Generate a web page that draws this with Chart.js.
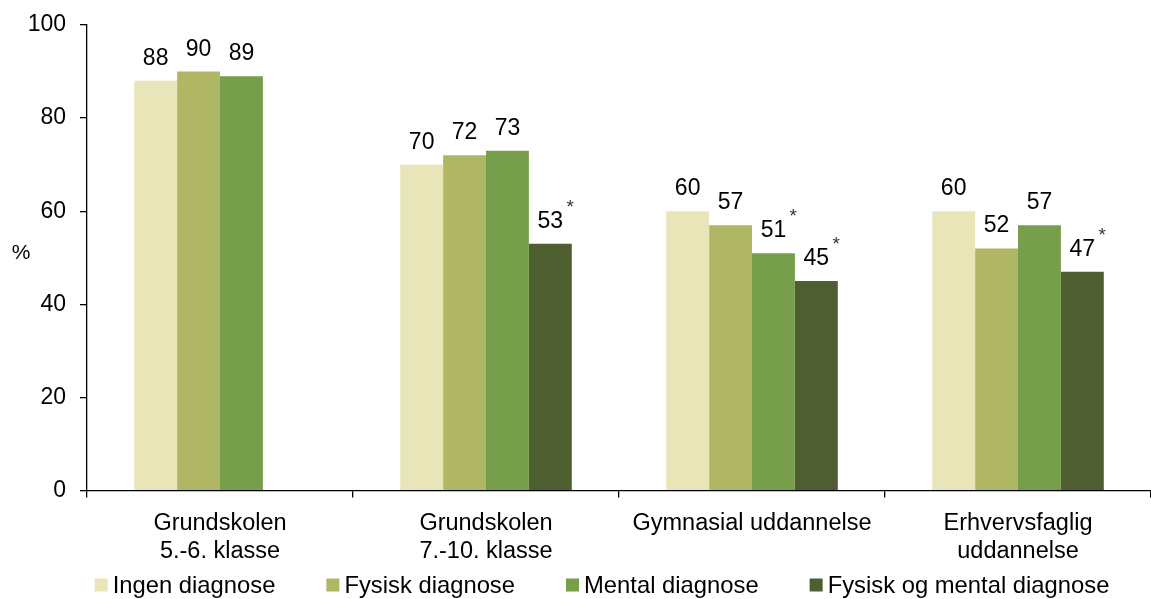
<!DOCTYPE html>
<html>
<head>
<meta charset="utf-8">
<script src="https://cdn.jsdelivr.net/npm/chart.js@4.4.0/dist/chart.umd.min.js"></script>
<style>
  body { margin: 0; background: #fff; }
  #wrap { width: 1151px; height: 599px; position: relative; }
</style>
</head>
<body>
<div id="wrap"><canvas id="chart"></canvas></div>
<script>
// categories and series
const categories = [['Grundskolen', '5.-6. klasse'], ['Grundskolen', '7.-10. klasse'], 'Gymnasial uddannelse', ['Erhvervsfaglig', 'uddannelse']];
const seriesNames = ['Ingen diagnose', 'Fysisk diagnose', 'Mental diagnose', 'Fysisk og mental diagnose'];
const ingen = [88, 70, 60, 60];
const fysisk = [90, 72, 57, 52];
const mental = [89, 73, 51, 57];
const fysiskMental = [null, 53, 45, 47];
// asterisks (significant difference) per series
const starsIngen = [false, false, false, false];
const starsFysisk = [false, false, false, false];
const starsMental = [false, false, true, false];
const starsFysiskMental = [false, true, true, true];
const yTicks = [0, 20, 40, 60, 80, 100];

const colors = ['#E8E6B9', '#AFB765', '#779E4B', '#4F5E31'];
const FONT = 'Liberation Sans, Arial, sans-serif';
const FS = 23;

// value labels on top of bars, with small asterisk
const barLabels = {
    id: 'barLabels',
    afterDatasetsDraw(chart) {
        const ctx = chart.ctx;
        ctx.save();
        chart.data.datasets.forEach((ds, i) => {
            const meta = chart.getDatasetMeta(i);
            meta.data.forEach((bar, j) => {
                const v = ds.data[j];
                if (v === null || v === undefined) return;
                const base = bar.y - 16;
                ctx.font = FS + 'px ' + FONT;
                ctx.fillStyle = '#000';
                ctx.textAlign = 'center';
                ctx.textBaseline = 'alphabetic';
                ctx.fillText(String(v), bar.x, base);
                if (ds.stars[j]) {
                    const w = ctx.measureText(String(v)).width;
                    ctx.font = '19px ' + FONT;
                    ctx.fillStyle = '#333';
                    ctx.fillText('*', bar.x + w / 2 + 7, base - 15);
                }
            });
        });
        ctx.restore();
    }
};

// unrotated "%" axis title
const percentTitle = {
    id: 'percentTitle',
    afterDraw(chart) {
        const ctx = chart.ctx;
        const y = chart.scales.y;
        ctx.save();
        ctx.font = '21px ' + FONT;
        ctx.fillStyle = '#000';
        ctx.textAlign = 'center';
        ctx.textBaseline = 'middle';
        ctx.fillText('%', 21, y.getPixelForValue(50) - 5);
        ctx.restore();
    }
};

// legend row at the bottom: small squares, wide gaps between items
const bottomLegend = {
    id: 'bottomLegend',
    afterDraw(chart) {
        const ctx = chart.ctx;
        const box = 13, gapText = 5, gapItem = 51, cy = 585, center = 602;
        ctx.save();
        ctx.font = '23.8px ' + FONT;
        const widths = chart.data.datasets.map(ds => ctx.measureText(ds.label).width);
        const total = widths.reduce((a, w) => a + box + gapText + w, 0) + gapItem * (widths.length - 1);
        let x = center - total / 2;
        ctx.textBaseline = 'middle';
        ctx.textAlign = 'left';
        chart.data.datasets.forEach((ds, i) => {
            ctx.fillStyle = ds.backgroundColor;
            ctx.fillRect(x, cy - box / 2, box, box);
            ctx.fillStyle = '#000';
            ctx.fillText(ds.label, x + box + gapText, cy + 1);
            x += box + gapText + widths[i] + gapItem;
        });
        ctx.restore();
    }
};

const seriesData = [ingen, fysisk, mental, fysiskMental];
const seriesStars = [starsIngen, starsFysisk, starsMental, starsFysiskMental];

new Chart(document.getElementById('chart'), {
    type: 'bar',
    data: {
        labels: categories,
        datasets: seriesNames.map((name, i) => ({
            label: name,
            data: seriesData[i],
            stars: seriesStars[i],
            backgroundColor: colors[i],
            borderWidth: 0,
            categoryPercentage: 0.645,
            barPercentage: 1.0
        }))
    },
    options: {
        responsive: true,
        maintainAspectRatio: false,
        animation: false,
        layout: { padding: { top: 25, right: -7, bottom: 21, left: 0 } },
        plugins: {
            legend: { display: false },
            tooltip: { enabled: false }
        },
        scales: {
            x: {
                grid: { offset: true, drawOnChartArea: false, tickLength: 7, color: '#000', lineWidth: 1.3 },
                border: { color: '#000', width: 1.3 },
                ticks: { color: '#000', padding: 12, maxRotation: 0, font: { family: FONT, size: 23.5, lineHeight: 1.2 } }
            },
            y: {
                min: 0,
                max: 100,
                afterFit(scale) {
                    scale.width = 87;
                    scale.paddingTop = 0;
                    scale.paddingBottom = 0;
                },
                afterBuildTicks(scale) { scale.ticks = yTicks.map(v => ({ value: v })); },
                grid: { drawOnChartArea: false, tickLength: 7, color: '#000', lineWidth: 1.3 },
                border: { color: '#000', width: 1.3 },
                ticks: { color: '#000', padding: 14, font: { family: FONT, size: FS } }
            }
        }
    },
    plugins: [barLabels, percentTitle, bottomLegend]
});
</script>
</body>
</html>
